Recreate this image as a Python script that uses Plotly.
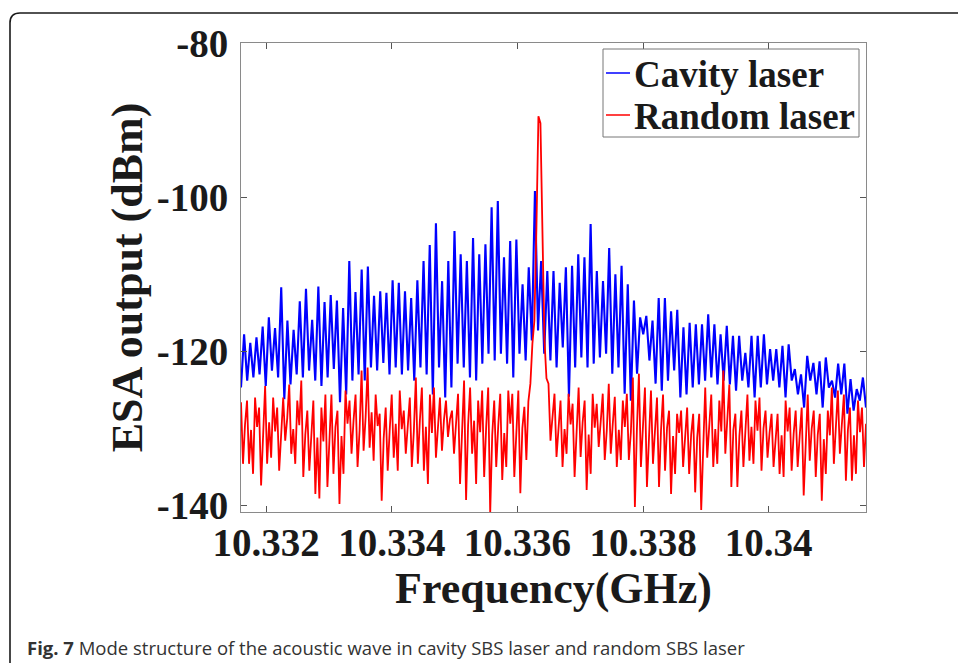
import numpy as np
import plotly.graph_objects as go

# ---------------- data ----------------
freq_start = 10.3316   # GHz, left edge of the sweep
freq_stop = 10.34155   # GHz, right edge of the sweep

# Cavity laser: alternating trough / peak values (dBm)
cavity_dbm = [
    -124.7,
    -117.8, -123.8, -118.9, -123.4, -118.2, -123.0, -116.8, -124.5, -115.6, -122.5,
    -117.0, -123.4, -111.7, -126.2, -116.0, -124.3, -117.2, -123.0, -113.5, -123.4,
    -111.9, -122.5, -115.9, -123.8, -111.6, -124.5, -113.6, -123.4, -112.7, -122.3,
    -113.4, -126.6, -114.4, -125.6, -108.3, -123.8, -112.3, -123.0, -109.4, -123.8,
    -109.0, -122.1, -112.8, -122.5, -112.2, -121.5, -112.4, -123.0, -110.8, -122.1,
    -111.1, -123.0, -112.2, -122.5, -113.1, -123.8, -110.8, -122.1, -108.3, -123.0,
    -106.2, -125.6, -103.4, -122.1, -110.9, -126.0,
    -108.3, -124.7, -104.4, -121.6, -107.4, -122.1, -108.3, -123.4, -105.3, -123.8,
    -107.4, -121.6, -106.1, -120.3, -101.3, -121.2, -100.5, -120.3, -107.8, -121.6,
    -105.7, -123.4, -105.5, -120.3, -111.3, -121.2, -109.1, -118.6, -99.2, -117.3,
    -108.3, -120.3, -109.6, -121.2, -109.6, -122.1, -111.1, -119.5, -109.1, -125.9,
    -108.9, -122.1, -107.4, -120.8, -107.8, -122.1, -103.5, -121.6, -109.6, -120.8,
    -110.9, -120.3, -106.6, -122.9, -110.0, -122.1, -108.9, -125.5, -111.3, -126.4,
    -113.4, -122.9, -115.6, -117.8, -115.4, -121.2, -116.0, -124.2,
    -113.1, -125.1, -113.1, -123.8, -114.8, -122.5, -114.6, -126.0, -116.9, -125.6,
    -116.3, -124.7, -116.5, -124.3, -116.5, -123.8, -115.2, -123.4, -116.5, -124.3,
    -117.8, -123.8, -116.7, -124.3, -118.0, -125.1, -118.0, -123.8, -120.2, -124.7,
    -118.0, -126.0, -118.0, -124.7, -117.8, -124.3, -119.7, -123.8, -119.7, -124.7,
    -119.3, -126.0, -119.1, -123.8, -122.3, -125.6, -123.0, -127.3, -120.6, -123.8,
    -121.5, -125.6, -121.3, -127.3, -120.8, -124.7, -123.8, -126.0, -121.6, -125.6,
    -121.6, -128.1, -123.6, -127.7, -124.9, -126.4, -123.4, -127.3,
]

# Random laser (dBm)
random_dbm = [
    -126.6, -134.6, -129.5, -126.4, -134.6, -130.2, -135.9, -126.0, -129.8,
    -127.3, -137.4, -130.6, -124.5, -134.6, -129.2, -133.8, -126.0, -130.4,
    -127.3, -135.5, -129.9, -126.0, -131.6, -128.7, -124.3, -133.3, -130.1,
    -134.6, -126.4, -129.6, -123.8, -136.3, -130.8, -127.7, -135.5, -130.0,
    -126.4, -138.5, -131.2, -139.1, -127.3, -131.7, -125.6, -137.6, -130.5,
    -125.6, -135.9, -129.8, -127.7, -139.8, -131.0, -135.9, -125.1, -129.4,
    -126.4, -133.3, -129.0, -125.6, -135.0, -130.3, -122.5, -132.9, -128.6,
    -122.1, -132.5, -127.9, -134.2, -125.6, -129.7, -128.1, -139.4, -131.3,
    -127.3, -135.5, -130.2, -125.6, -133.8, -129.4, -135.5, -125.1, -130.1,
    -127.7, -133.3, -129.6, -126.0, -135.0, -130.4, -123.4, -134.6, -129.0,
    -124.7, -135.5, -129.8, -137.2, -125.6, -130.6, -124.7, -133.8, -129.5,
    -126.0, -132.9, -128.9,
    -126.4, -131.1, -128.8, -127.7, -133.3, -130.0, -125.5, -137.2, -130.4,
    -123.8, -139.3, -129.6, -124.7, -133.3, -129.0, -137.2, -126.4, -130.5,
    -125.1, -136.3, -129.8, -124.7, -141.0, -130.9, -126.4, -135.0, -129.7,
    -125.5, -136.7, -130.6, -135.0, -125.1, -129.4, -125.5, -136.3, -130.2,
    -125.1, -138.4, -130.0, -127.2, -134.1, -126.5, -124.2, -119.0, -116.0,
    -104.0, -89.5, -90.4, -104.5, -118.5, -123.5, -124.2, -131.6, -128.4,
    -125.5, -133.7, -129.3, -126.4, -135.0, -130.1, -133.3, -125.5, -129.5,
    -126.8, -136.3, -130.7, -124.7, -133.7, -129.2, -126.4, -138.0, -130.8,
    -135.9, -125.5, -129.9, -126.8, -132.4, -129.1, -125.5, -134.1, -130.3,
    -124.2, -133.3, -129.4, -125.9, -135.0, -130.2, -134.1, -126.4, -129.8,
    -125.5, -134.1, -130.5, -123.4, -140.2, -130.1, -122.9, -135.0, -129.3,
    -124.7, -137.6, -130.4, -125.1, -134.6, -129.7,
    -126.0, -137.6, -130.2, -125.6, -135.5, -129.9, -127.7, -138.5, -131.0,
    -135.9, -128.1, -130.6, -127.7, -135.0, -130.3, -127.3, -135.9, -130.8,
    -128.1, -138.3, -131.2, -128.1, -140.6, -131.5, -124.7, -133.8, -129.5,
    -125.6, -135.0, -130.1, -134.6, -126.4, -130.4, -122.5, -133.3, -129.0,
    -124.3, -137.6, -130.2, -128.1, -137.6, -131.0, -127.7, -135.0, -130.5,
    -125.6, -134.2, -129.8, -134.6, -126.4, -130.3, -126.0, -135.5, -130.0,
    -127.7, -133.8, -130.6, -128.1, -135.0, -131.1, -128.1, -135.9, -130.9,
    -136.3, -126.4, -130.4, -127.3, -135.5, -130.7, -127.7, -135.0, -131.0,
    -127.3, -138.7, -131.2, -125.6, -134.2, -130.0, -127.7, -136.3, -130.8,
    -128.1, -139.4, -131.4, -135.9, -127.7, -130.9, -124.7, -134.6, -129.6,
    -125.1, -133.3, -129.3, -125.6, -136.8, -130.2, -127.3, -136.8, -130.9,
    -135.9, -126.4, -130.5, -127.3, -135.0, -129.4,
]

series_names = ["Cavity laser", "Random laser"]
series_colors = ["#0000ff", "#ff0000"]

x_tickvals = [10.332, 10.334, 10.336, 10.338, 10.34]
x_ticktext = ["10.332", "10.334", "10.336", "10.338", "10.34"]
y_tickvals = [-140, -120, -100, -80]
y_ticktext = ["-140", "-120", "-100", "-80"]

cavity_freq = np.linspace(freq_start, freq_stop, len(cavity_dbm))
random_freq = np.linspace(freq_start, freq_stop, len(random_dbm))

# ---------------- figure ----------------
W, H = 958, 663
L, R, T, B = 241, 92, 43, 151
pw, ph = W - L - R, H - T - B

def px(xp):
    return (xp - L) / pw

def py(yp):
    return (H - B - yp) / ph

serif_bold = dict(family="Liberation Serif", color="#1a1a1a", weight="bold")

fig = go.Figure()
fig.add_trace(go.Scatter(x=cavity_freq, y=cavity_dbm, mode="lines", name=series_names[0],
                         line=dict(color=series_colors[0], width=2.1), showlegend=False))
fig.add_trace(go.Scatter(x=random_freq, y=random_dbm, mode="lines", name=series_names[1],
                         line=dict(color=series_colors[1], width=1.8), showlegend=False))

# rounded frame around the figure
r = 10
x0, y0 = 10, 13
x1, y1 = 990, 700
path = (f"M {px(x0)},{py(y1)} L {px(x0)},{py(y0 + r)} "
        f"Q {px(x0)},{py(y0)} {px(x0 + r)},{py(y0)} L {px(x1)},{py(y0)}")
fig.add_shape(type="path", xref="paper", yref="paper", path=path,
              line=dict(color="#1a1a1a", width=1.6), layer="above")

# legend box (MATLAB style)
fig.add_shape(type="rect", xref="paper", yref="paper",
              x0=px(603), x1=px(859), y0=py(137), y1=py(49),
              line=dict(color="#777777", width=1), fillcolor="white", layer="above")
for i, (nm, col) in enumerate(zip(series_names, series_colors)):
    yy = 73 + 42 * i
    fig.add_shape(type="line", xref="paper", yref="paper",
                  x0=px(606), x1=px(630), y0=py(yy), y1=py(yy),
                  line=dict(color=col, width=1.5), layer="above")
    fig.add_annotation(xref="paper", yref="paper", x=px(632), y=py(yy + 1),
                       xanchor="left", yanchor="middle", text=nm, showarrow=False,
                       font=dict(size=37, **serif_bold))

fig.add_annotation(xref="paper", yref="paper", x=px(25), y=py(647), xanchor="left", yanchor="middle",
                   text="<b>Fig. 7</b> Mode structure of the acoustic wave in cavity SBS laser and random SBS laser",
                   showarrow=False, font=dict(family="Open Sans", size=18.5, color="#333333"))

fig.update_layout(
    width=W, height=H,
    margin=dict(l=L, r=R, t=T, b=B),
    paper_bgcolor="white", plot_bgcolor="white",
    showlegend=False,
    xaxis=dict(range=[freq_start, freq_stop], tickvals=x_tickvals, ticktext=x_ticktext,
               showgrid=False, zeroline=False, showline=True, linecolor="#8a8a8a", linewidth=1,
               mirror="allticks", ticks="inside", ticklen=6, tickcolor="#555555",
               tickfont=dict(size=39, **serif_bold), ticklabelstandoff=-4,
               title=dict(text="Frequency(GHz)", font=dict(size=44, **serif_bold), standoff=5)),
    yaxis=dict(range=[-140.85, -80], tickvals=y_tickvals, ticktext=y_ticktext,
               showgrid=False, zeroline=False, showline=True, linecolor="#8a8a8a", linewidth=1,
               mirror="allticks", ticks="inside", ticklen=6, tickcolor="#555555",
               tickfont=dict(size=39, **serif_bold), ticklabelstandoff=4,
               title=dict(text="ESA output (dBm)", font=dict(size=44, **serif_bold), standoff=0)),
)

fig.write_html("out.html", config={"displayModeBar": False},
               post_script="document.body.style.margin='0';document.body.style.overflow='hidden';")
